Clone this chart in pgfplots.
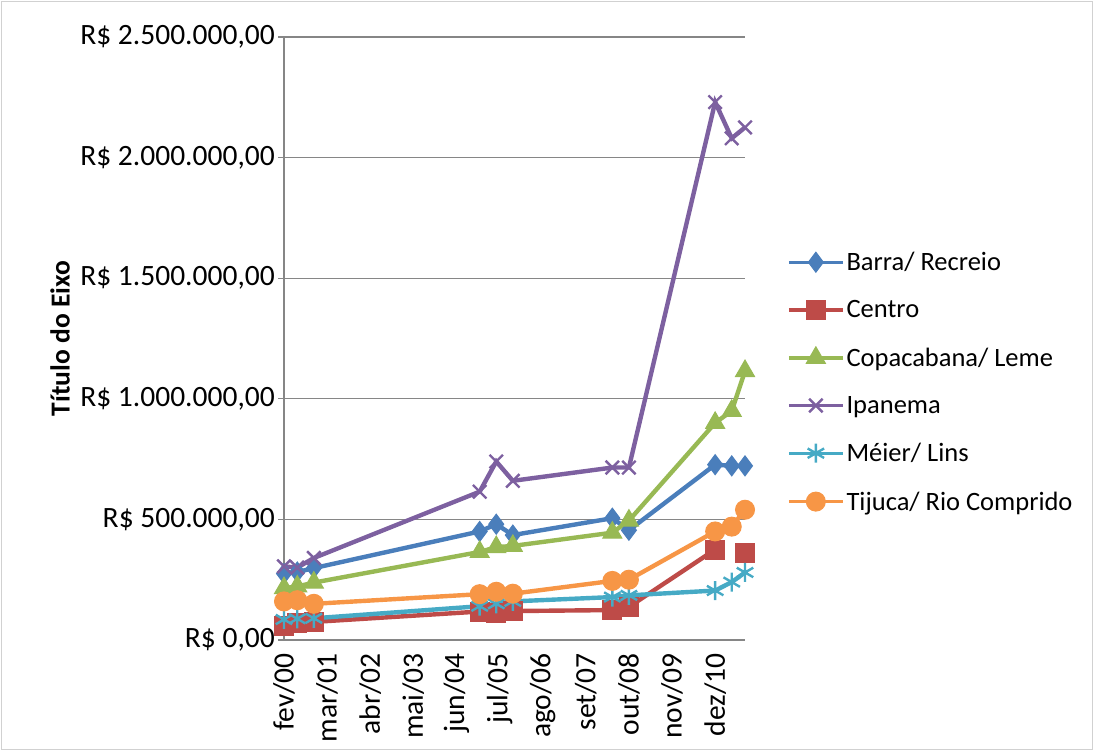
\documentclass[border=0pt]{standalone}
\usepackage{fontspec}
\setmainfont{Carlito}
\usepackage{pgfplots}
\pgfplotsset{compat=1.18}
\usepackage{pgfplotstable}

\definecolor{barra}{HTML}{4A7EBB}
\definecolor{centro}{HTML}{BE4B48}
\definecolor{copa}{HTML}{98B954}
\definecolor{ipanema}{HTML}{7D60A0}
\definecolor{meier}{HTML}{46AAC5}
\definecolor{tijuca}{HTML}{F79646}
\definecolor{eixo}{HTML}{868686}

% mes = meses desde fev/2000; valores em R$
\pgfplotstableread{
mes barra  centro copa    ipanema meier  tijuca
0   275000 60000  215000  305000  85000  160000
4   282000 70000  222000  300000  88000  165000
9   298000 75000  238000  340000  90000  150000
59  450000 118000 365000  615000  140000 190000
64  480000 112000 385000  740000  150000 200000
69  435000 120000 390000  660000  160000 192000
99  505000 124000 445000  715000  178000 245000
104 455000 137000 495000  715000  185000 250000
130 727000 375000 900000  2230000 205000 450000
135 722000 nan    950000  2080000 240000 470000
139 722000 360000 1115000 2125000 280000 540000
}\dados

\begin{document}
\begin{tikzpicture}[x=1pt,y=1pt]
\useasboundingbox (0,0) rectangle (1094,751);
\draw[black!18, line width=1.2pt] (1.5,1.5) rectangle (1092.5,749.5);
\begin{axis}[
  at={(284pt,111pt)}, anchor=south west,
  scale only axis, width=461pt, height=603pt,
  xmin=0, xmax=139, ymin=0, ymax=2500000,
  clip=false,
  unbounded coords=jump,
  axis lines*=left,
  axis line style={eixo, line width=1.4pt},
  ymajorgrids, grid style={eixo, line width=1.3pt},
  xtick={0,13,26,39,52,65,78,91,104,117,130},
  xticklabels={fev/00,mar/01,abr/02,mai/03,jun/04,jul/05,ago/06,set/07,out/08,nov/09,dez/10},
  ytick={0,500000,1000000,1500000,2000000,2500000},
  yticklabels={{R\$ 0,00},{R\$ 500.000,00},{R\$ 1.000.000,00},{R\$ 1.500.000,00},{R\$ 2.000.000,00},{R\$ 2.500.000,00}},
  scaled y ticks=false,
  tick align=outside, major tick length=6pt,
  xtick style={draw=none},
  ytick style={eixo, line width=1.3pt},
  tick label style={font=\fontsize{29.5}{35}\selectfont, text=black},
  xticklabel style={rotate=90, anchor=east, inner sep=7pt},
  yticklabel style={inner sep=3pt},
  ylabel={Título do Eixo},
  ylabel style={font=\bfseries\fontsize{27.5}{32}\selectfont, at={(axis description cs:-0.486,0.5)}, anchor=center},
  legend style={at={(axis description cs:1.091,0.428)}, anchor=west, draw=none, fill=none,
    font=\fontsize{26.5}{32}\selectfont, row sep=24.5pt, inner sep=0pt,
    nodes={inner sep=2pt}},
  legend cell align=left,
  legend image code/.code={\draw[mark repeat=2, mark phase=2, line width=3.4pt, #1]
    plot coordinates {(0pt,0pt) (27pt,0pt) (54pt,0pt)};},
  every axis plot/.append style={line width=4.4pt},
]
\addplot[barra, mark=diamond*, mark size=10pt, mark options={solid, fill=barra, line width=1pt}] table[x=mes, y=barra] {\dados};
\addlegendentry{Barra/ Recreio}
\addplot[centro, mark=square*, mark size=9.5pt, mark options={solid, fill=centro, line width=1pt}] table[x=mes, y=centro] {\dados};
\addlegendentry{Centro}
\addplot[copa, mark=triangle*, mark size=11pt, mark options={solid, fill=copa, line width=1pt}] table[x=mes, y=copa] {\dados};
\addlegendentry{Copacabana/ Leme}
\addplot[ipanema, mark=x, mark size=9.5pt, mark options={solid, line width=2.4pt}] table[x=mes, y=ipanema] {\dados};
\addlegendentry{Ipanema}
\addplot[meier, mark=asterisk, mark size=9.5pt, mark options={solid, line width=2.4pt}] table[x=mes, y=meier] {\dados};
\addlegendentry{Méier/ Lins}
\addplot[tijuca, mark=*, mark size=9.5pt, mark options={solid, fill=tijuca, line width=1pt}] table[x=mes, y=tijuca] {\dados};
\addlegendentry{Tijuca/ Rio Comprido}
\end{axis}
\end{tikzpicture}
\end{document}
